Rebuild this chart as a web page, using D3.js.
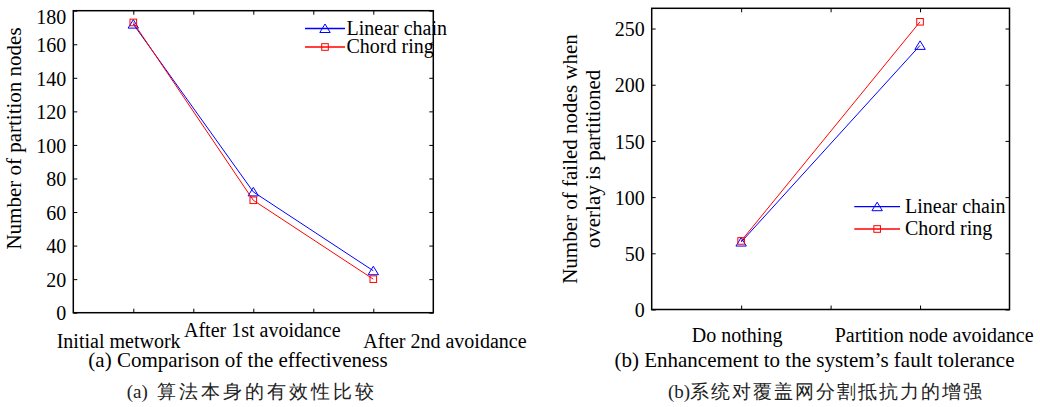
<!DOCTYPE html>
<html>
<head>
<meta charset="utf-8">
<script src="https://cdn.jsdelivr.net/npm/d3@7"></script>
<style>
  body { margin: 0; background: #fff; }
  svg { display: block; }
  svg text { font-family: "Liberation Serif", "Times New Roman", Times, "DejaVu Serif", serif; }
  svg text.zh { font-family: "Noto Sans CJK SC", sans-serif; }
</style>
</head>
<body>
<div id="sketchpad"></div>
<script>
// panel (a) data
let aCategories = ["Initial metwork", "After 1st avoidance", "After 2nd avoidance"]
let aLinear = [172, 72, 25]
let aChord = [173, 67, 20]
let aYTicks = [0, 20, 40, 60, 80, 100, 120, 140, 160, 180]

// panel (b) data
let bCategories = ["Do nothing", "Partition node avoidance"]
let bLinear = [60, 235]
let bChord = [61, 256]
let bYTicks = [0, 50, 100, 150, 200, 250]

let seriesNames = ["Linear chain", "Chord ring"]

let svg = d3.select("#sketchpad")
  .append("svg")
  .attr("width", 1040)
  .attr("height", 407)

svg.append("rect")
  .attr("width", 1040)
  .attr("height", 407)
  .attr("fill", "#fff")

function trianglePath(cx, cy) {
  return `M${cx},${cy - 4.5}L${cx + 5.2},${cy + 4}L${cx - 5.2},${cy + 4}Z`
}

function drawMarkers(g, pts, kind, color) {
  if (kind === "tri") {
    g.selectAll(null).data(pts).enter().append("path")
      .attr("d", d => trianglePath(d[0], d[1]))
      .attr("fill", "none").attr("stroke", color).attr("stroke-width", 1)
  } else {
    g.selectAll(null).data(pts).enter().append("rect")
      .attr("x", d => d[0] - 3.3).attr("y", d => d[1] - 3.3)
      .attr("width", 6.6).attr("height", 6.6)
      .attr("fill", "none").attr("stroke", color).attr("stroke-width", 1)
  }
}

function drawPanel(cfg) {
  let g = svg.append("g")
  let b = cfg.box
  let x = d3.scaleLinear().domain([0.5, cfg.categories.length + 0.5]).range([b.left, b.right])
  let y = d3.scaleLinear().domain(cfg.yDomain).range([b.bottom, b.top])
  let xTicks = d3.range(1, cfg.categories.length + 0.01, 0.5)

  // inward ticks on all four sides
  let bottom = g.append("g").attr("transform", `translate(0,${b.bottom})`)
    .call(d3.axisBottom(x).tickValues(xTicks).tickSizeInner(-4).tickSizeOuter(0).tickFormat(""))
  let top = g.append("g").attr("transform", `translate(0,${b.top})`)
    .call(d3.axisTop(x).tickValues(xTicks).tickSizeInner(-4).tickSizeOuter(0).tickFormat(""))
  let right = g.append("g").attr("transform", `translate(${b.right},0)`)
    .call(d3.axisRight(y).tickValues(cfg.yTicks).tickSizeInner(-4).tickSizeOuter(0).tickFormat(""))
  let left = g.append("g").attr("transform", `translate(${b.left},0)`)
    .call(d3.axisLeft(y).tickValues(cfg.yTicks).tickSizeInner(-4).tickSizeOuter(0).tickPadding(7))

  for (let a of [bottom, top, right, left]) {
    a.attr("font-family", null)
    a.select(".domain").remove()
    a.selectAll("line").attr("stroke", "#000")
  }
  left.selectAll("text")
    .attr("font-size", 20).attr("fill", "#000")
    .attr("dy", d => d === cfg.yDomain[1] ? "0.63em" : "0.36em")

  g.append("rect")
    .attr("x", b.left).attr("y", b.top)
    .attr("width", b.right - b.left).attr("height", b.bottom - b.top)
    .attr("fill", "none").attr("stroke", "#000").attr("stroke-width", 1.5)

  // category labels, placed like the original figure
  g.selectAll(null).data(cfg.categories).enter().append("text")
    .attr("x", (d, i) => x(i + 1) + cfg.labelDx[i])
    .attr("y", (d, i) => cfg.labelY[i])
    .attr("font-size", 20)
    .text(d => d)

  // series
  let line = d3.line().x((d, i) => x(i + 1)).y(d => y(d))
  let series = [
    { vals: cfg.linear, color: "#0000ff", kind: "tri" },
    { vals: cfg.chord, color: "#ff0000", kind: "sq" }
  ]
  for (let s of series) {
    g.append("path").datum(s.vals)
      .attr("d", line).attr("fill", "none")
      .attr("stroke", s.color).attr("stroke-width", 1)
    drawMarkers(g, s.vals.map((v, i) => [x(i + 1), y(v)]), s.kind, s.color)
  }

  // legend
  let L = cfg.legend
  series.forEach((s, i) => {
    let ly = L.rows[i]
    g.append("line")
      .attr("x1", L.x1).attr("x2", L.x2).attr("y1", ly).attr("y2", ly)
      .attr("stroke", s.color).attr("stroke-width", 1.3)
    drawMarkers(g, [[(L.x1 + L.x2) / 2, ly]], s.kind, s.color)
    g.append("text")
      .attr("x", L.textX).attr("y", ly + 6)
      .attr("font-size", 20)
      .text(seriesNames[i])
  })

  // y axis title
  let yt = g.append("text")
    .attr("transform", `translate(${cfg.yTitle.x},${cfg.yTitle.y}) rotate(-90)`)
    .attr("text-anchor", "middle")
    .attr("font-size", 21)
  cfg.yTitle.lines.forEach((t, i) => {
    yt.append("tspan").attr("x", 0).attr("y", i * cfg.yTitle.gap + 7).text(t)
  })

  // captions
  g.append("text")
    .attr("x", cfg.caption.x).attr("y", 367)
    .attr("text-anchor", "middle")
    .attr("font-size", 21)
    .text(cfg.caption.en)
  let zh = g.append("text")
    .attr("x", cfg.caption.x2).attr("y", 398)
    .attr("text-anchor", "middle")
    .attr("font-size", 19)
    .attr("fill", "#222")
  zh.append("tspan").text(cfg.caption.tag)
  zh.append("tspan").attr("class", "zh")
    .attr("letter-spacing", cfg.caption.spacing)
    .text(cfg.caption.zh)
}

drawPanel({
  box: { left: 73.3, right: 433.3, top: 10.7, bottom: 312.7 },
  categories: aCategories,
  yDomain: [0, 180],
  yTicks: aYTicks,
  linear: aLinear,
  chord: aChord,
  labelDx: [-76.6, -69.3, -10],
  labelY: [348, 337, 348],
  legend: { x1: 305, x2: 345, textX: 346.5, rows: [28.5, 47] },
  yTitle: { x: 14, y: 138.5, gap: 0, lines: ["Number of partition nodes"] },
  caption: { x: 238, x2: 252, spacing: 3, en: "(a) Comparison of the effectiveness", tag: "(a)\u00a0\u00a0", zh: "算法本身的有效性比较" }
})

drawPanel({
  box: { left: 651.7, right: 1009.5, top: 8.3, bottom: 309.5 },
  categories: bCategories,
  yDomain: [0, 268],
  yTicks: bYTicks,
  linear: bLinear,
  chord: bChord,
  labelDx: [-49.3, -85.3],
  labelY: [341.7, 341.7],
  legend: { x1: 854.3, x2: 900, textX: 905, rows: [206.7, 229] },
  yTitle: { x: 570, y: 159, gap: 23.3, lines: ["Number of failed nodes when", "overlay is partitioned"] },
  caption: { x: 814.5, x2: 826, spacing: 2, en: "(b) Enhancement to the system\u2019s fault tolerance", tag: "(b)", zh: "系统对覆盖网分割抵抗力的增强" }
})
</script>
</body>
</html>
